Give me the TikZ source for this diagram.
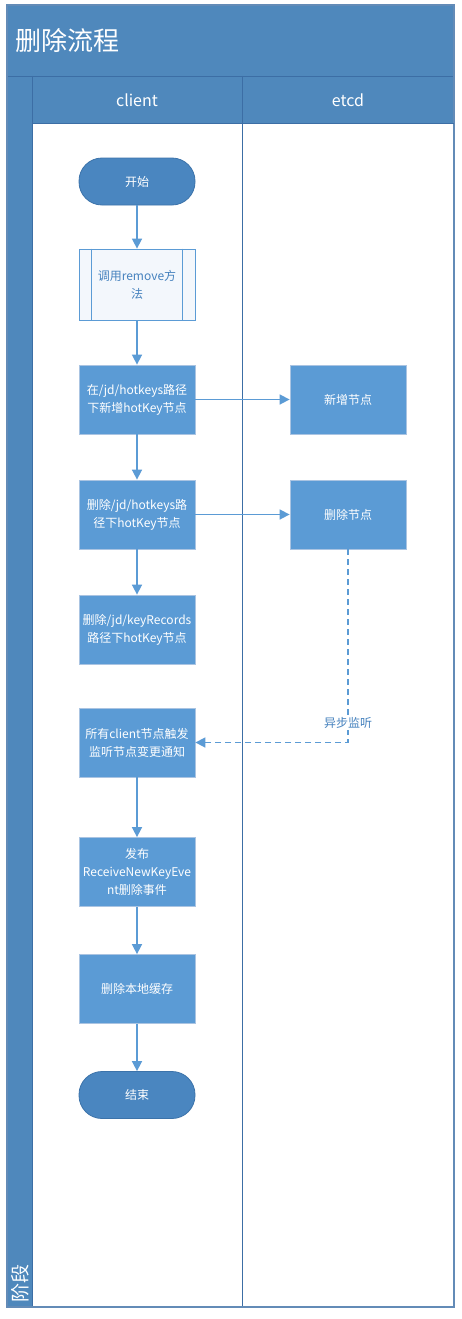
\documentclass[tikz,border=0pt]{standalone}
\usepackage{fontspec}
\setmainfont{Noto Sans CJK SC}
\usetikzlibrary{arrows.meta}
\definecolor{band}{RGB}{79,136,188}
\definecolor{bandline}{RGB}{60,110,165}
\definecolor{procfill}{RGB}{91,155,213}
\definecolor{procborder}{RGB}{170,196,226}
\definecolor{termfill}{RGB}{74,134,192}
\definecolor{termborder}{RGB}{60,115,170}
\definecolor{flowc}{RGB}{91,155,213}
\definecolor{subfill}{RGB}{243,247,252}
\definecolor{subtext}{RGB}{70,130,190}
\tikzset{
  proc/.style={draw=procborder, fill=procfill, line width=0.8pt, minimum width=116pt, minimum height=69pt, text width=112pt, align=center, text=white, inner sep=0pt, font=\fontsize{12}{18}\selectfont},
  term/.style={draw=termborder, fill=termfill, line width=0.8pt, rounded corners=23pt, minimum width=116pt, minimum height=47pt, text=white, inner sep=0pt, font=\fontsize{12}{18}\selectfont},
  subproc/.style={draw=flowc, fill=subfill, line width=0.8pt, minimum width=116pt, minimum height=71pt, text width=100pt, align=center, text=subtext, inner sep=0pt, font=\fontsize{12}{18}\selectfont},
  flow/.style={draw=flowc, line width=1.6pt, -{Triangle[length=10pt,width=10pt]}},
  asyncflow/.style={draw=flowc, line width=1.6pt, dash pattern=on 6pt off 4pt, -{Triangle[length=10pt,width=10pt]}},
  lanehead/.style={text=white, font=\fontsize{16}{18}\selectfont},
}
\begin{document}
\begin{tikzpicture}[x=1pt,y=-1pt]
\useasboundingbox (0,0) rectangle (461,1319);
% frame
\fill[white] (7,5) rectangle (454,1307);
\fill[band] (7,5) rectangle (454,123);
\fill[band] (7,123) rectangle (32,1307);
\draw[bandline, line width=0.8pt] (7,76) -- (454,76);
\draw[bandline, line width=0.8pt] (32,76) -- (32,1307);
\draw[bandline, line width=1pt] (242,76) -- (242,1307);
\draw[bandline!80, line width=1.2pt] (7,5) rectangle (454,1307);
\draw[bandline, line width=0.6pt] (32,123) -- (454,123);
\node[anchor=west, text=white, font=\fontsize{26}{30}\selectfont] (title) at (12,41) {删除流程};
\node[lanehead] (h1) at (137,100) {client};
\node[lanehead] (h2) at (348,100) {etcd};
\node[rotate=90, anchor=west, text=white, font=\fontsize{19}{20}\selectfont, inner sep=0pt] (stage) at (20,1303) {阶段};
% nodes
\node[term] (start) at (137,181.5) {开始};
\node[subproc] (call) at (137,284.5) {调用remove方\\法};
\draw[flowc, line width=0.8pt] ([xshift=13pt]call.north west) -- ([xshift=13pt]call.south west);
\draw[flowc, line width=0.8pt] ([xshift=-13pt]call.north east) -- ([xshift=-13pt]call.south east);
\node[proc] (add) at (137,399.5) {在/jd/hotkeys路径\\下新增hotKey节点};
\node[proc] (addnode) at (348,399.5) {新增节点};
\node[proc] (del) at (137,514.5) {删除/jd/hotkeys路\\径下hotKey节点};
\node[proc] (delnode) at (348,514.5) {删除节点};
\node[proc] (delrec) at (137,629.5) {删除/jd/keyRecords\\路径下hotKey节点};
\node[proc] (notify) at (137,742.5) {所有client节点触发\\监听节点变更通知};
\node[proc] (pub) at (137,872) {发布\\ReceiveNewKeyEve\\nt删除事件};
\node[proc] (cache) at (137,989) {删除本地缓存};
\node[term] (end) at (137,1095) {结束};
% connectors
\draw[flow] (start) -- (call);
\draw[flow] (call) -- (add);
\draw[flow] (add) -- (addnode);
\draw[flow] (add) -- (del);
\draw[flow] (del) -- (delnode);
\draw[flow] (del) -- (delrec);
\draw[flow] (notify) -- (pub);
\draw[flow] (pub) -- (cache);
\draw[flow] (cache) -- (end);
\coordinate (bend) at (delnode.south |- notify.east);
\draw[asyncflow] (delnode.south) -- (bend) -- (notify.east);
\node[text=subtext, font=\fontsize{12}{14}\selectfont, fill=white, inner sep=1pt] (async) at (348,723) {异步监听};
\end{tikzpicture}
\end{document}
